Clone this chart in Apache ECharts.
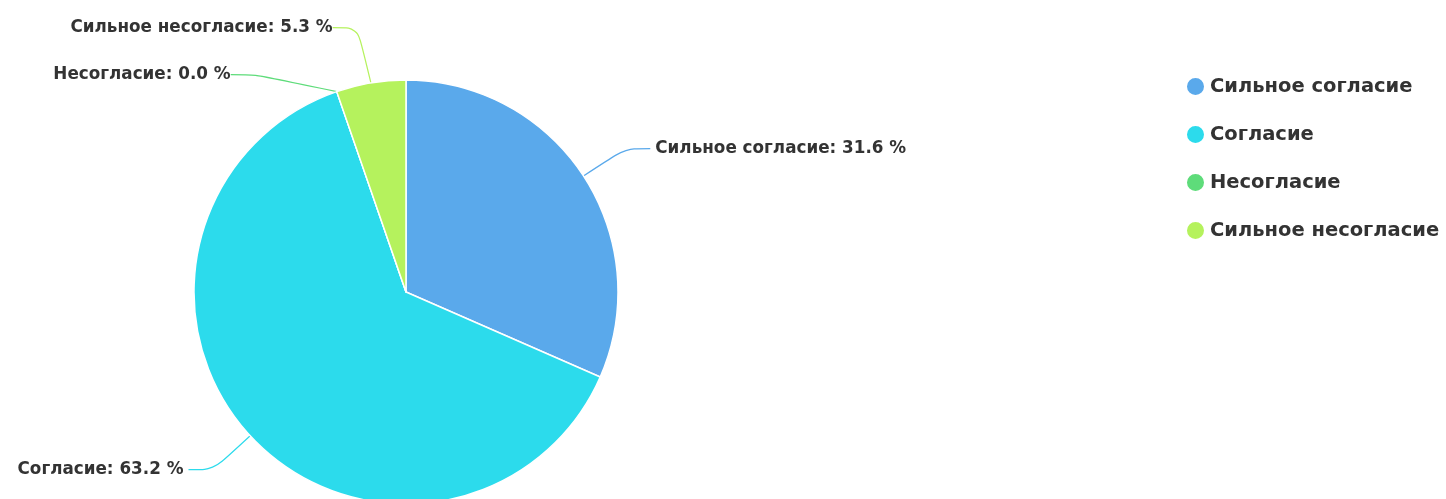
<!DOCTYPE html>
<html>
<head>
<meta charset="utf-8">
<script src="https://cdn.jsdelivr.net/npm/echarts@6/dist/echarts.min.js"></script>
<style>
  html, body { margin: 0; padding: 0; background: #ffffff; }
  #chart { width: 1446px; height: 499px; }
</style>
</head>
<body>
<div id="chart"></div>
<script>
// Survey answers, share of respondents in percent
const categories = ['Сильное согласие', 'Согласие', 'Несогласие', 'Сильное несогласие'];
const shares = [31.6, 63.2, 0.0, 5.3];
const colors = ['#5aa9eb', '#2cdbec', '#5edc7a', '#b5f25d'];

const chart = echarts.init(document.getElementById('chart'));

// Spread the two crowded labels above the pie a little further apart
const labelShift = { 2: { dx: -42, dy: 22 }, 3: { dx: 0, dy: -6 } };

chart.setOption({
  animation: false,
  color: colors,
  textStyle: { fontFamily: 'DejaVu Sans' },
  legend: {
    orient: 'vertical',
    left: 1180,
    top: 71,
    icon: 'circle',
    itemWidth: 19,
    itemHeight: 19,
    itemGap: 27,
    textStyle: { fontSize: 19.5, fontWeight: 'bold', color: '#333333', fontFamily: 'DejaVu Sans' },
    data: categories
  },
  series: [{
    type: 'pie',
    center: [406, 292],
    radius: 212,
    startAngle: 90,
    clockwise: true,
    itemStyle: { borderColor: '#ffffff', borderWidth: 1.5 },
    label: {
      show: true,
      color: '#333333',
      fontSize: 16.8,
      fontWeight: 'bold',
      fontFamily: 'DejaVu Sans',
      formatter: p => p.name + ': ' + p.value.toFixed(1) + ' %'
    },
    labelLine: { show: true, length: 50, length2: 25, smooth: true, lineStyle: { width: 1.2 } },
    labelLayout: p => {
      const s = labelShift[p.dataIndex];
      if (!s) return {};
      const r = p.labelRect;
      return {
        x: r.x + r.width + s.dx,
        y: r.y + r.height / 2 + s.dy,
        align: 'right',
        verticalAlign: 'middle'
      };
    },
    data: categories.map((name, i) => ({ name, value: shares[i] }))
  }]
});
</script>
</body>
</html>
